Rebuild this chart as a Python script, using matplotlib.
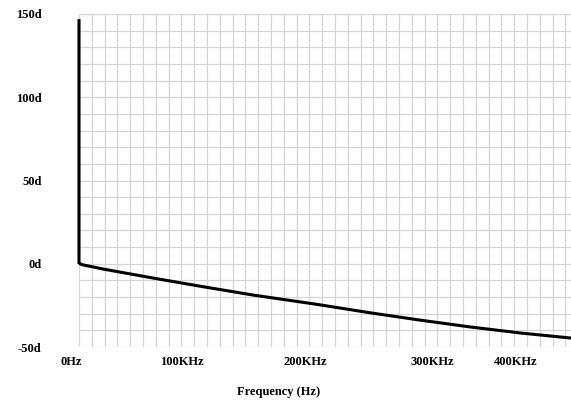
import matplotlib.pyplot as plt
from matplotlib.ticker import MultipleLocator, FuncFormatter
import matplotlib.transforms as mtransforms

# phase response (frequency in kHz, phase in degrees)
freq_khz = [0, 0, 2, 19, 58, 97, 136, 186, 227, 266, 305, 345, 384]
phase_deg = [146, 0.5, -0.5, -3.2, -8.6, -13.8, -18.8, -24.4, -29.4, -33.8, -37.9, -41.6, -44.6]

x_labels = ['0Hz', '100KHz', '200KHz', '300KHz', '400KHz']
x_label_pos = [-6, 80, 177, 276, 341]   # where the labels sit in the source (kHz)

font = {'family': 'Liberation Serif', 'weight': 'bold', 'size': 9}

fig = plt.figure(figsize=(5.71, 4.01), dpi=100)
ax = fig.add_axes([79 / 571, 1 - 347 / 401, 1 - 79 / 571, (347 - 14) / 401])

ax.plot(freq_khz, phase_deg, color='black', lw=2.2, solid_joinstyle='miter',
        clip_on=False)

ax.set_xlim(0, 384.4)
ax.set_ylim(-50, 150)
ax.xaxis.set_major_locator(MultipleLocator(10))
ax.yaxis.set_major_locator(MultipleLocator(10))
ax.grid(True, color='#d4d4d4', lw=0.9)
ax.set_axisbelow(True)
for s in ax.spines.values():
    s.set_visible(False)

ax.tick_params(length=0)
ax.xaxis.set_major_formatter(FuncFormatter(lambda v, p: ''))
ax.yaxis.set_major_formatter(FuncFormatter(
    lambda v, p: f'{int(round(v))}d' if round(v) % 50 == 0 else ''))
ax.tick_params(axis='y', pad=27)
for lab in ax.get_yticklabels():
    lab.set_fontproperties(font)

trans = mtransforms.blended_transform_factory(ax.transData, ax.transAxes)
for lab, pos in zip(x_labels, x_label_pos):
    ax.text(pos, -0.045, lab, transform=trans, ha='center', va='center', **font)

fig.text(279 / 571, 1 - 392 / 401, 'Frequency (Hz)', ha='center', va='center', **font)

fig.savefig('out.png', dpi=100)
